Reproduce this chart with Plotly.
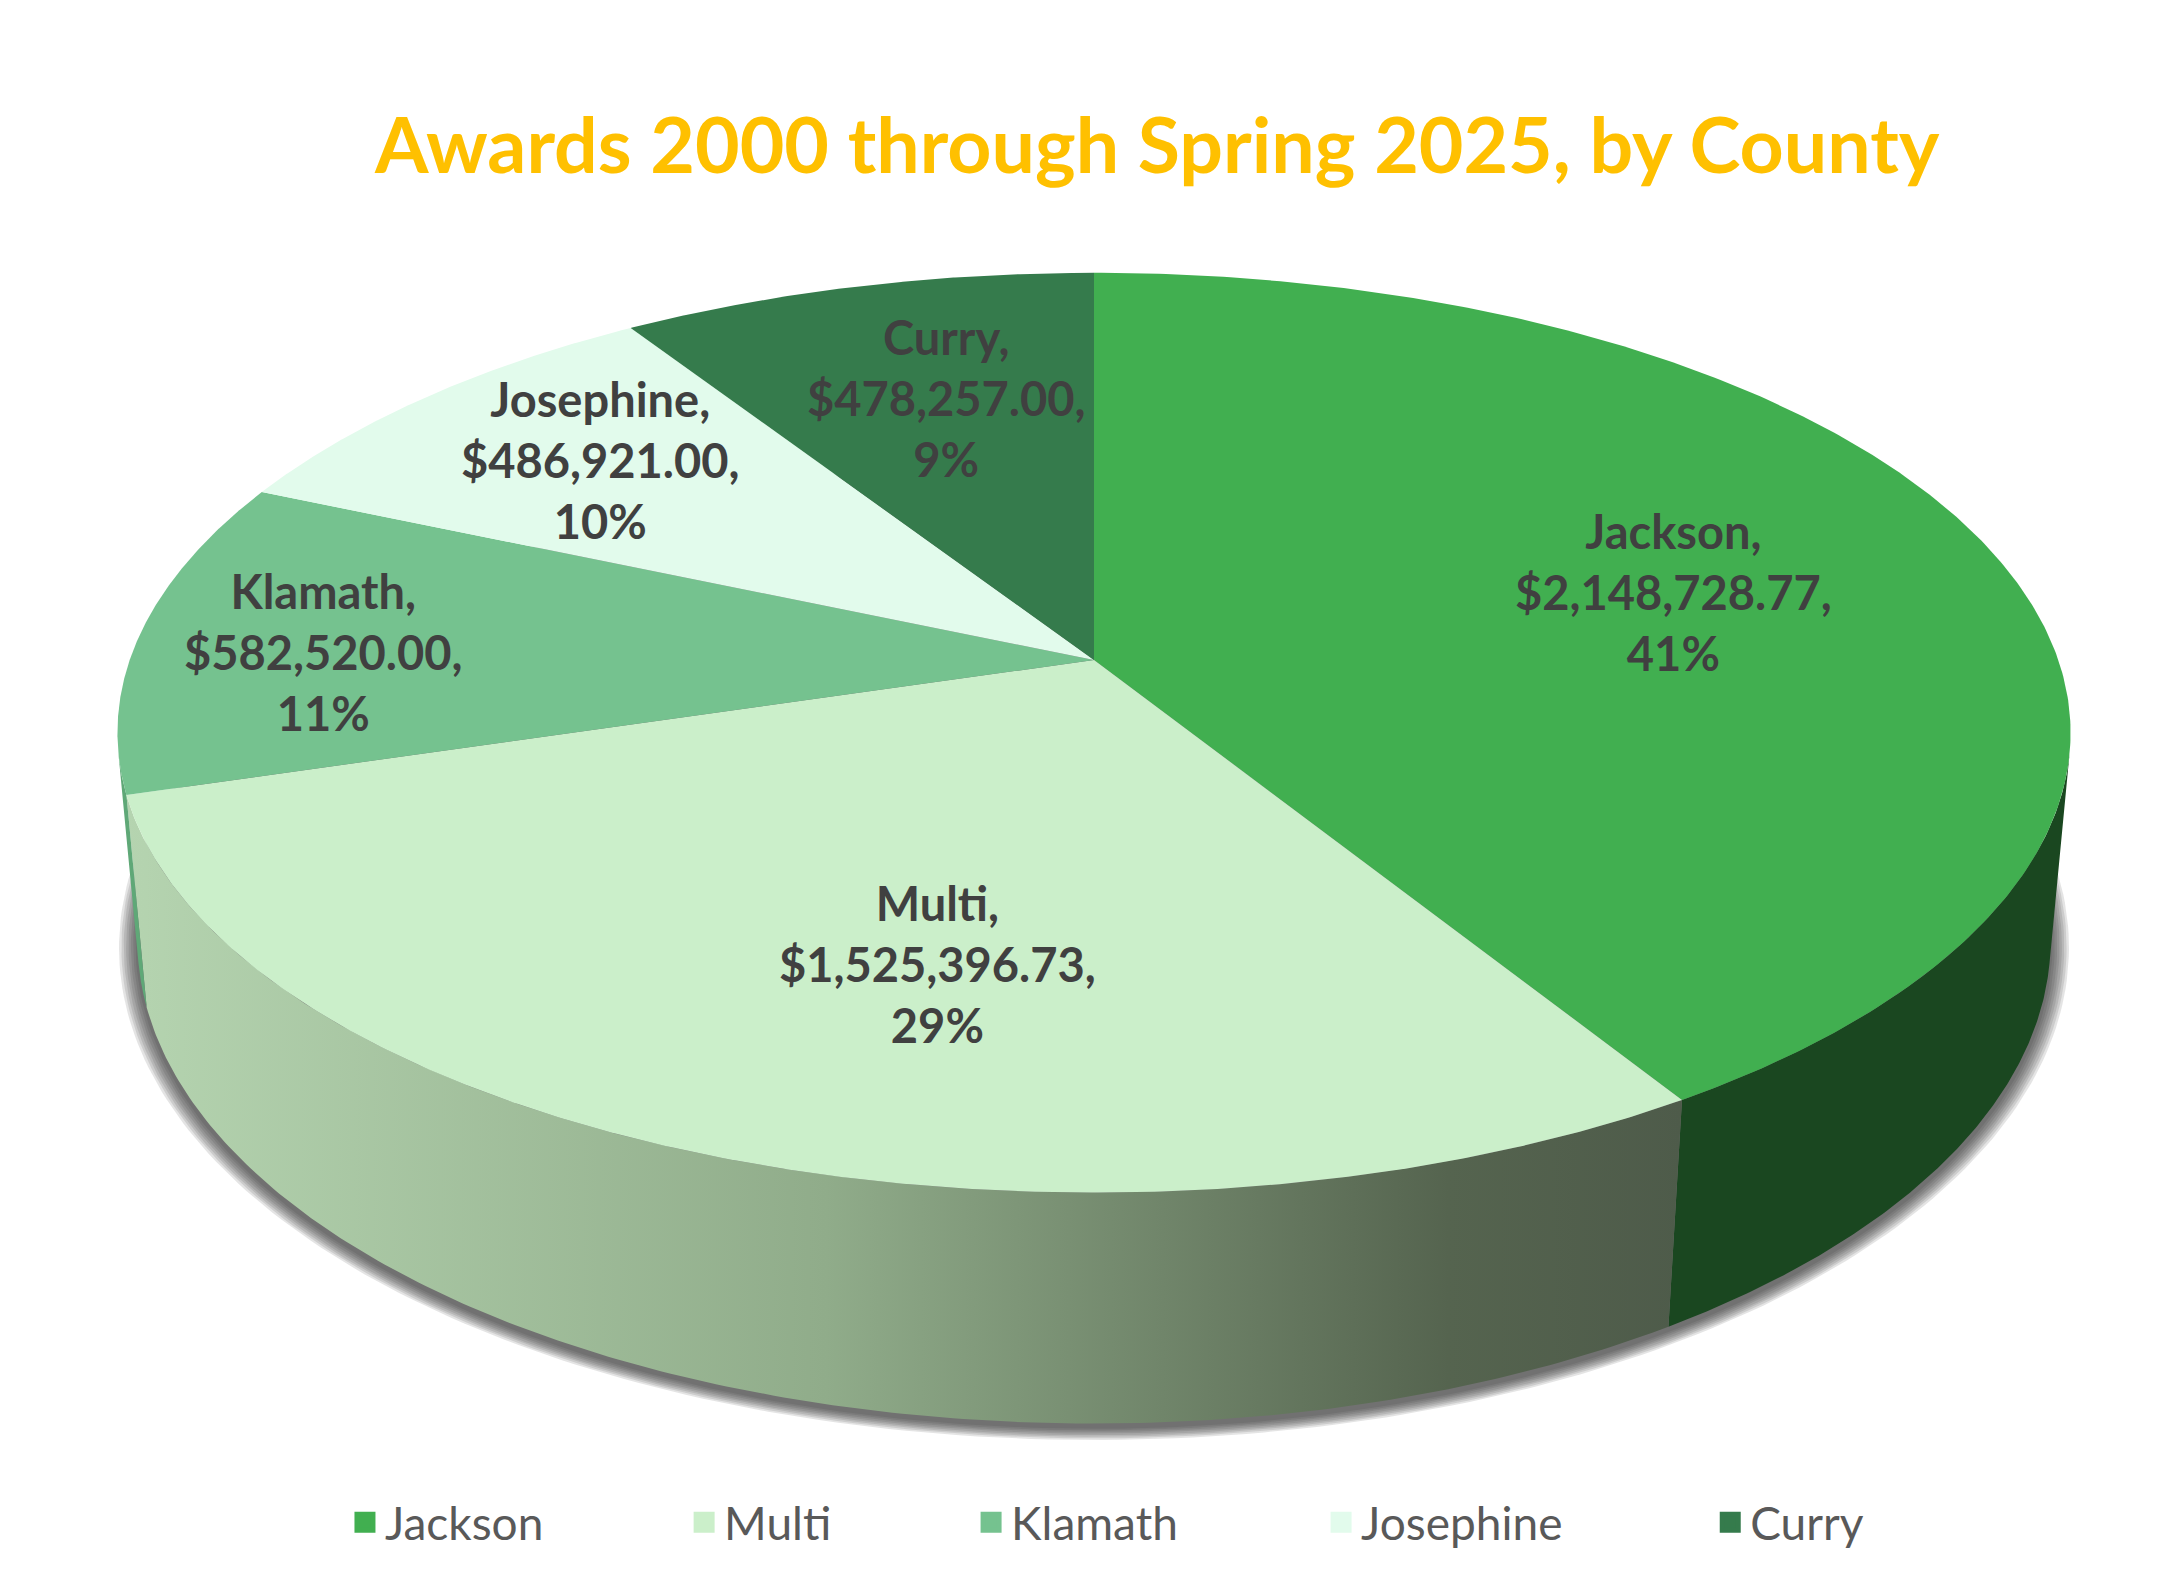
import numpy as np
import plotly.graph_objects as go

# award totals by county (Excel 3-D pie, clockwise from 12 o'clock)
counties = ["Jackson", "Multi", "Klamath", "Josephine", "Curry"]
awards = [2148728.77, 1525396.73, 582520.00, 486921.00, 478257.00]
pct_labels = ["41%", "29%", "11%", "10%", "9%"]

top_colors = ["#41AF50", "#CBEFCA", "#75C28F", "#E2FBEC", "#357B4C"]
side_colors = ["#1A4720", "#B4D3AF", "#5FA877", "#C5DCCB", "#2A5E3B"]
multi_side_scale = [[0, "#B5D4B0"], [0.45, "#90AC8A"], [0.85, "#55644F"], [1, "#4E5B4A"]]

# where each data label sits (radius fraction, angle nudge in degrees)
label_r = [0.63, 0.64, 0.80, 0.72, 0.65]
label_nudge = [3, -7.5, -3, 0, 1.5]

W, H = 2174, 1584
CX, CY = 1086, 652
FOC = 5400
DIST = 5.60
ELEV = np.arcsin(0.465)
THICK = 0.246


def project(theta_deg, r=1.0, drop=0.0):
    t = np.radians(theta_deg)
    x = r * np.sin(t)
    z = -r * np.cos(t)
    y = -drop
    s, c = np.sin(ELEV), np.cos(ELEV)
    d = DIST - y * s - z * c
    up = y * c - z * s
    return CX + FOC * x / d, CY - FOC * up / d


total = sum(awards)
edges = np.concatenate([[0], np.cumsum(awards) / total * 360])

# visible part of the outer wall
vis_a = np.degrees(np.arccos(-1 / (DIST * np.cos(ELEV))))
vis_b = 360 - vis_a

fig = go.Figure()

# soft shadow under the pie (bottom rim, grown a little each layer)
ring = np.linspace(0, 360, 400)
for k in range(8):
    rr = 1.002 + 0.0024 * k
    sx, sy = project(ring, rr, THICK)
    fig.add_trace(go.Scatter(
        x=sx, y=sy + 4,
        fill="toself", mode="lines", line=dict(width=0),
        fillcolor="rgba(50,50,50,0.13)", hoverinfo="skip", showlegend=False))

# outer walls
for i in range(len(counties)):
    t0, t1 = max(edges[i], vis_a), min(edges[i + 1], vis_b)
    if t1 <= t0:
        continue
    tt = np.linspace(t0, t1, 200)
    ux, uy = project(tt)
    lx, ly = project(tt[::-1], 1.0, THICK)
    kw = dict(fillcolor=side_colors[i])
    if counties[i] == "Multi":
        kw = dict(fillgradient=dict(type="horizontal", colorscale=multi_side_scale))
    fig.add_trace(go.Scatter(
        x=np.concatenate([ux, lx]), y=np.concatenate([uy, ly]),
        fill="toself", mode="lines", line=dict(width=0),
        hoverinfo="skip", showlegend=False, **kw))

# top faces
for i in range(len(counties)):
    tt = np.linspace(edges[i], edges[i + 1], 300)
    ax, ay = project(tt)
    fig.add_trace(go.Scatter(
        x=np.concatenate([[CX], ax, [CX]]), y=np.concatenate([[CY], ay, [CY]]),
        fill="toself", mode="lines", line=dict(width=0),
        fillcolor=top_colors[i], hoverinfo="skip", showlegend=False))

# data labels
for i in range(len(counties)):
    mid = (edges[i] + edges[i + 1]) / 2 + label_nudge[i]
    lx, ly = project(mid, label_r[i])
    fig.add_annotation(
        x=float(lx), y=float(ly) - 6, xref="x", yref="y", showarrow=False,
        text=f"{counties[i]},<br>${awards[i]:,.2f},<br>{pct_labels[i]}",
        font=dict(family="Lato", size=47, color="#404040", weight="bold"))

# legend entries
legend_x = [0.155, 0.311, 0.443, 0.604, 0.783]
for i in range(len(counties)):
    key = "legend" if i == 0 else f"legend{i + 1}"
    fig.add_trace(go.Scatter(
        x=[None], y=[None], mode="markers", name=counties[i],
        marker=dict(symbol="square", size=30, color=top_colors[i],
                    line=dict(width=5, color=top_colors[i])),
        legend=key))

layout_legends = {}
for i in range(len(counties)):
    key = "legend" if i == 0 else f"legend{i + 1}"
    layout_legends[key] = dict(
        x=legend_x[i], y=0.044, xanchor="left", yanchor="middle",
        orientation="h", bgcolor="rgba(0,0,0,0)",
        font=dict(family="Lato", size=46, color="#595959"))

fig.update_layout(
    width=W, height=H,
    margin=dict(l=0, r=0, t=0, b=0),
    paper_bgcolor="white", plot_bgcolor="white",
    title=dict(text="<b>Awards 2000 through Spring 2025, by County</b>",
               x=0.5286, xanchor="center", y=0.913, yanchor="middle",
               font=dict(family="Lato", size=77, color="#FFC000")),
    xaxis=dict(range=[0, W], visible=False, fixedrange=True),
    yaxis=dict(range=[H, 0], visible=False, fixedrange=True),
    showlegend=True,
    **layout_legends,
)

fig.write_html("out.html")
